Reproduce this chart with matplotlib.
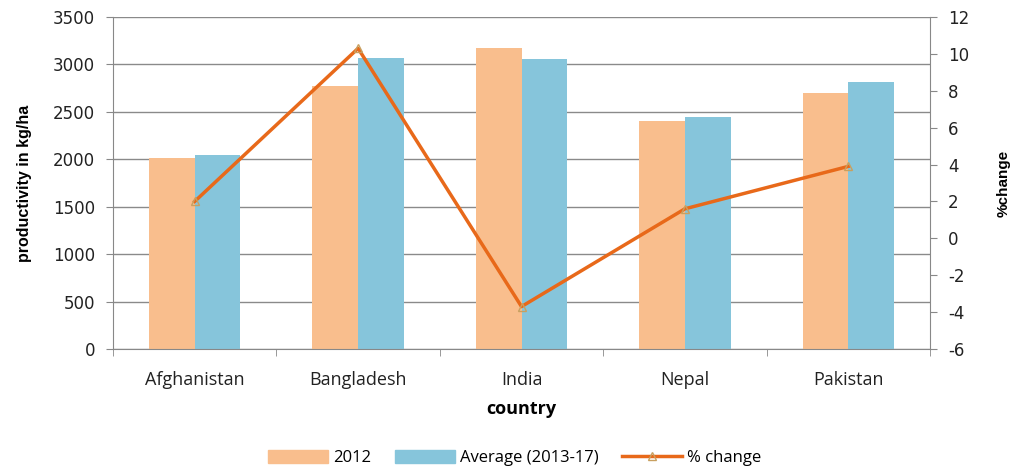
import matplotlib
matplotlib.use("Agg")
import matplotlib.pyplot as plt
import numpy as np
from matplotlib.lines import Line2D
from matplotlib.patches import Patch

plt.rcParams["axes.unicode_minus"] = False

countries = ["Afghanistan", "Bangladesh", "India", "Nepal", "Pakistan"]
prod_2012 = [2010, 2770, 3170, 2400, 2700]
prod_avg = [2045, 3065, 3060, 2445, 2815]
pct_change = [2.0, 10.3, -3.7, 1.6, 3.9]

c_orange = "#F9BE8D"
c_blue = "#86C5DB"
c_line = "#E8691A"

fig = plt.figure(figsize=(10.13, 4.68), dpi=100)
ax = fig.add_axes([113/1013, 1 - 349/468, (930-113)/1013, (349-17)/468])
x = np.arange(len(countries))
w = 0.28
ax.bar(x - w/2, prod_2012, w, color=c_orange, zorder=2)
ax.bar(x + w/2, prod_avg, w, color=c_blue, zorder=2)
ax.set_xlim(-0.5, len(countries) - 0.5)
ax.set_ylim(0, 3500)
ax.set_yticks(np.arange(0, 3501, 500))
ax.yaxis.grid(True, color="#8a8a8a", linewidth=1.0, zorder=0)
ax.set_axisbelow(True)
ax.set_xticks(x)
ax.set_xticklabels(countries, fontsize=13, family="Open Sans", color="#222222")
ax.set_xticks(np.arange(-0.5, len(countries)), minor=True)
ax.tick_params(axis="x", which="major", length=0, pad=16)
ax.tick_params(axis="x", which="minor", length=5, color="#888888")
ax.tick_params(axis="y", length=5, color="#888888", labelsize=12, colors="#222222", pad=8)
for lab in ax.get_yticklabels():
    lab.set_family("DejaVu Sans")
for s in ["top", "right"]:
    ax.spines[s].set_visible(False)
for s in ["left", "bottom"]:
    ax.spines[s].set_color("#888888")
ax.set_ylabel("productivity in kg/ha", fontsize=11.5, fontweight="bold", family="Liberation Sans", labelpad=15)
ax.set_xlabel("country", fontsize=13, fontweight="bold", family="Open Sans", labelpad=8)

ax2 = ax.twinx()
ax2.plot(x, pct_change, color=c_line, linewidth=2.5, marker="^", markersize=6,
         markerfacecolor="none", markeredgecolor="#C8A060", markeredgewidth=1, zorder=3)
ax2.set_ylim(-6, 12)
ax2.set_yticks(np.arange(-6, 13, 2))
ax2.tick_params(axis="y", length=5, color="#888888", labelsize=12, colors="#222222", pad=8)
for s in ["top", "left", "bottom"]:
    ax2.spines[s].set_visible(False)
ax2.spines["right"].set_color("#888888")
ax2.set_ylabel("%change", fontsize=11, fontweight="bold", family="Liberation Sans", labelpad=20)

handles = [Patch(color=c_orange, label="2012"),
           Patch(color=c_blue, label="Average (2013-17)"),
           Line2D([0], [0], color=c_line, linewidth=2.5, marker="^", markersize=6,
                  markerfacecolor="none", markeredgecolor="#C8A060", label="% change")]
fig.legend(handles=handles, loc="center", bbox_to_anchor=(0.508, 1 - 458/468), ncol=3,
           frameon=False, prop={"family": "Open Sans", "size": 12}, handlelength=3.6,
           handleheight=0.8, columnspacing=1.4, handletextpad=0.3)
fig.savefig("out.png", dpi=100)
